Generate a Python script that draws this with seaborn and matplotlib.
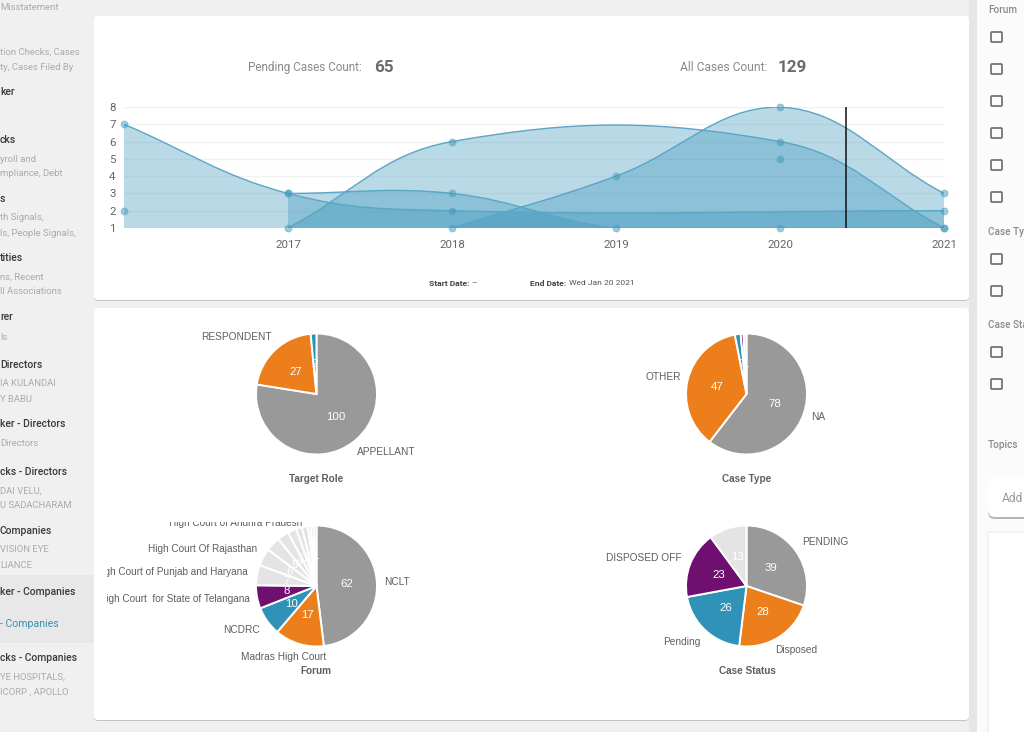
import matplotlib
matplotlib.use('Agg')
import matplotlib.pyplot as plt
from matplotlib.patches import FancyBboxPatch, PathPatch, Rectangle
from matplotlib.path import Path
import seaborn as sns
import numpy as np
import pandas as pd

W, H = 1024, 732

# valores
years = [2017, 2018, 2019, 2020, 2021]
y_ticks = [1, 2, 3, 4, 5, 6, 7, 8]
serie_a_x, serie_a_y = [2016, 2017, 2018, 2021], [7, 3, 2, 2]
serie_b_x, serie_b_y = [2017, 2018, 2019, 2020, 2021], [3, 3, 1, 1, 1]
serie_c_x, serie_c_y = [2017, 2018, 2020, 2021], [1, 6, 6, 1]
serie_d_x, serie_d_y = [2018, 2019, 2020, 2021], [1, 4, 8, 3]
serie_e_x, serie_e_y = [2016, 2020], [2, 5]

role_values = [100, 27, 2]
type_values = [78, 47, 2, 1, 1]
forum_values = [62, 17, 10, 8, 7, 6, 5, 4, 3, 2, 2, 1, 1, 1]
status_values = [39, 28, 26, 23, 13]

GREY, ORANGE, TEAL, PURPLE, LIGHT = '#999999', '#ec7e1b', '#3192b8', '#6f0f6f', '#e4e4e4'
LINE = '#5aa6c5'
FILL = '#3f97bd'

sns.set_theme(style='white')
plt.rcParams['font.family'] = ['Roboto', 'DejaVu Sans']

fig = plt.figure(figsize=(W / 100, H / 100), dpi=100, facecolor='#f0f0f0')


def axes_px(left, top, right, bottom, **kw):
    return fig.add_axes([left / W, 1 - bottom / H, (right - left) / W, (bottom - top) / H], **kw)


bg = axes_px(0, 0, W, H)
bg.set_xlim(0, W)
bg.set_ylim(H, 0)
bg.axis('off')


def txt(x, y, s, size=10, color='#333333', weight='normal', ha='left', family=None, **kw):
    if family is None:
        family = ['Roboto', 'DejaVu Sans']
        y = y + 1
    return bg.text(x, y, s, fontsize=size * 0.72, color=color, fontweight=weight, ha=ha,
                   va='center', family=family, **kw)


def card(x0, y0, x1, y1, fc='white', shadow='#c4c4c4', drop=1, round_px=4):
    style = f'round,pad=0,rounding_size={round_px}'
    if shadow:
        bg.add_patch(FancyBboxPatch((x0, y0 + drop), x1 - x0, y1 - y0, boxstyle=style, fc=shadow, ec='none'))
    bg.add_patch(FancyBboxPatch((x0, y0), x1 - x0, y1 - y0, boxstyle=style, fc=fc, ec='none'))


# fondo, tarjetas y panel derecho
bg.add_patch(Rectangle((969, 0), 8, H, fc='#e6e6e6', ec='none'))
bg.add_patch(Rectangle((977, 0), W - 977, H, fc='#fbfbfb', ec='none'))
bg.add_patch(Rectangle((0, 575), 94, 68, fc='#e8e8e8', ec='none'))
card(94, 16, 969, 300)
card(94, 308, 969, 720)

# barra lateral izquierda
side_dark = [(91, 'ker'), (139, 'cks'), (198, 's'), (257, 'tities'), (316, 'rer'), (364, 'Directors'),
             (423, 'ker - Directors'), (471, 'cks - Directors'), (530, 'Companies'),
             (591, 'ker - Companies'), (657, 'cks - Companies')]
side_grey = [(6, 'Misstatement'), (51, 'tion Checks, Cases'), (66, 'ty, Cases Filed By'), (158, 'yroll and'),
             (173, 'mpliance, Debt'), (217, 'th Signals,'), (232, 'ls, People Signals,'), (276, 'ns, Recent'),
             (291, 'll Associations'), (336, 'ls'), (383, 'IA KULANDAI'), (398, 'Y BABU'), (442, 'Directors'),
             (490, 'DAI VELU,'), (505, 'U SADACHARAM'), (549, 'VISION EYE'), (564, 'LIANCE'),
             (676, 'YE HOSPITALS,'), (691, 'ICORP , APOLLO')]
for y, s in side_dark:
    txt(0, y, s, size=10.4, color='#3a3a3a', weight='medium')
for y, s in side_grey:
    txt(0, y, s, size=9.5, color='#ababab')
txt(0, 623, '- Companies', size=10.5, color='#3d8fb0')

# panel derecho
for y, s in [(9, 'Forum'), (231, 'Case Ty'), (324, 'Case Sta'), (444, 'Topics')]:
    txt(988, y, s, size=10, color='#8a8a8a', weight='medium')
for y in [37, 69, 101, 133, 165, 197, 259, 291, 352, 384]:
    bg.add_patch(FancyBboxPatch((991, y - 5), 11, 10, boxstyle='round,pad=0,rounding_size=1',
                                fc='none', ec='#757575', lw=1.3))
card(988, 477, 1040, 517, shadow='#b5b5b5', drop=2, round_px=7)
txt(1002, 497, 'Add', size=12, color='#9a9a9a')
bg.add_patch(FancyBboxPatch((988, 532), 60, 220, boxstyle='round,pad=0,rounding_size=1', fc='white', ec='#eeeeee'))

# cabecera
txt(362, 66.5, 'Pending Cases Count:', size=11.8, color='#8a8a8a', ha='right')
txt(374, 66, '65', size=17, color='#6b6b6b', weight='bold')
txt(767, 66.5, 'All Cases Count:', size=12, color='#8a8a8a', ha='right')
txt(778, 66, '129', size=17, color='#6b6b6b', weight='bold')
txt(429, 282, 'Start Date:', size=8.5, color='#444444', weight='bold')
txt(471, 282, '–', size=8.5, color='#444444')
txt(530, 282, 'End Date:', size=8.5, color='#444444', weight='bold')
txt(569, 282, 'Wed Jan 20 2021', size=8.5, color='#555555')

# grafica de areas
ax = axes_px(124, 107, 944, 228)
ax.patch.set_alpha(0)
ax.set_xlim(2016, 2021)
ax.set_ylim(1, 8)
sns.despine(ax=ax, left=True, bottom=True, top=True, right=True)
ax.set_xticks(years)
ax.set_yticks(y_ticks)
ax.tick_params(axis='both', length=0, labelsize=11.5 * 0.72, labelcolor='#666666')
ax.tick_params(axis='x', pad=9)
ax.tick_params(axis='y', pad=6)
ax.grid(axis='y', color='#f1f1f1', lw=1)
ax.set_axisbelow(True)


def spline(xs, ys, tension=0.4):
    # curva tipo Chart.js, se calcula en pixeles
    p = ax.transData.transform(np.column_stack([xs, ys]))
    top, base = ax.transData.transform([(2016, 8), (2016, 1)])[:, 1]
    verts, codes = [p[0]], [Path.MOVETO]
    n = len(p)
    for i in range(n - 1):
        p0, p1, p2, p3 = p[max(i - 1, 0)], p[i], p[i + 1], p[min(i + 2, n - 1)]
        d01, d12, d23 = np.hypot(*(p1 - p0)), np.hypot(*(p2 - p1)), np.hypot(*(p3 - p2))
        c1 = p1 + tension * d12 / (d01 + d12) * (p2 - p0)
        c2 = p2 - tension * d12 / (d12 + d23) * (p3 - p1)
        c1[1] = np.clip(c1[1], base, top)
        c2[1] = np.clip(c2[1], base, top)
        verts += [c1, c2, p2]
        codes += [Path.CURVE4] * 3
    return ax.transData.inverted().transform(np.array(verts)), codes


series = [(serie_a_x, serie_a_y), (serie_b_x, serie_b_y), (serie_c_x, serie_c_y), (serie_d_x, serie_d_y)]
for xs, ys in series:
    verts, codes = spline(xs, ys)
    area = np.vstack([verts, [[xs[-1], 1], [xs[0], 1], [xs[0], ys[0]]]])
    ax.add_patch(PathPatch(Path(area, codes + [Path.LINETO] * 3), fc=FILL, ec='none', alpha=0.36, zorder=2))
    ax.add_patch(PathPatch(Path(verts, codes), fc='none', ec=LINE, lw=1.0, zorder=3))

df_pts = pd.concat([pd.DataFrame({'x': x, 'y': y}) for x, y in series + [(serie_e_x, serie_e_y)]])
sns.scatterplot(data=df_pts, x='x', y='y', ax=ax, s=24, color=FILL, alpha=0.5, edgecolor=LINE,
                linewidth=0.8, clip_on=False, zorder=4, legend=False)
ax.set_xlabel('')
ax.set_ylabel('')
ax.axvline(2020.4, color='#111111', lw=1.1, zorder=5)


def pie_px(cx, cy, values, colors, r=60.5):
    a = axes_px(cx - r, cy - r, cx + r, cy + r)
    a.pie(values, colors=colors, startangle=90, counterclock=False, radius=1,
          wedgeprops={'edgecolor': 'white', 'linewidth': 1.4},
          autopct=lambda pct: f'{pct * sum(values) / 100:.0f}', pctdistance=0.5,
          textprops={'color': 'white', 'fontsize': 11.5 * 0.72, 'family': ['Liberation Sans']})
    a.set_xlim(-1, 1)
    a.set_ylim(-1, 1)
    a.patch.set_alpha(0)
    return a


pal = sns.color_palette([GREY, ORANGE, TEAL, PURPLE])
pie_px(316.5, 394, role_values, [GREY, ORANGE, TEAL])
pie_px(746.5, 394, type_values, [GREY, ORANGE, TEAL, PURPLE, LIGHT])
pie_px(316.5, 586, forum_values, list(pal) + [LIGHT] * 10)
pie_px(746.5, 586, status_values, list(pal) + [LIGHT])

LAB = ['Liberation Sans']
LC = '#5f5f5f'
SZ = 10.1
txt(236, 337, 'RESPONDENT', size=SZ, color=LC, family=LAB, ha='center')
txt(386, 452, 'APPELLANT', size=SZ, color=LC, family=LAB, ha='center')
txt(663, 377, 'OTHER', size=SZ, color=LC, family=LAB, ha='center')
txt(818, 417, 'NA', size=SZ, color=LC, family=LAB, ha='center')
txt(384, 582, 'NCLT', size=SZ, color=LC, family=LAB)
txt(260, 630, 'NCDRC', size=SZ, color=LC, family=LAB, ha='right')
txt(284, 657, 'Madras High Court', size=SZ, color=LC, family=LAB, ha='center')
txt(825, 542, 'PENDING', size=SZ, color=LC, family=LAB, ha='center')
txt(796, 650, 'Disposed', size=SZ, color=LC, family=LAB, ha='center')
txt(682, 642, 'Pending', size=SZ, color=LC, family=LAB, ha='center')
txt(644, 558, 'DISPOSED OFF', size=SZ, color=LC, family=LAB, ha='center')

# etiquetas de Forum recortadas por el area del svg
clip = Rectangle((107, 522), 300, 150, transform=bg.transData)
for y, right, s in [(523.5, 302, 'High Court of Andhra Pradesh'), (549, 257, 'High Court Of Rajasthan'),
                    (572, 248, 'High Court of Punjab and Haryana'),
                    (599, 250, 'High Court  for State of Telangana')]:
    t = txt(right, y, s, size=10, color=LC, family=LAB, ha='right')
    t.set_clip_path(clip)
    t.set_clip_on(True)

for x, y, s in [(316, 479, 'Target Role'), (747, 479, 'Case Type'), (316, 671, 'Forum'), (747, 671, 'Case Status')]:
    txt(x, y, s, size=10, color='#5f5f5f', weight='bold', family=LAB, ha='center')

fig.savefig('out.png', dpi=100, facecolor=fig.get_facecolor())
